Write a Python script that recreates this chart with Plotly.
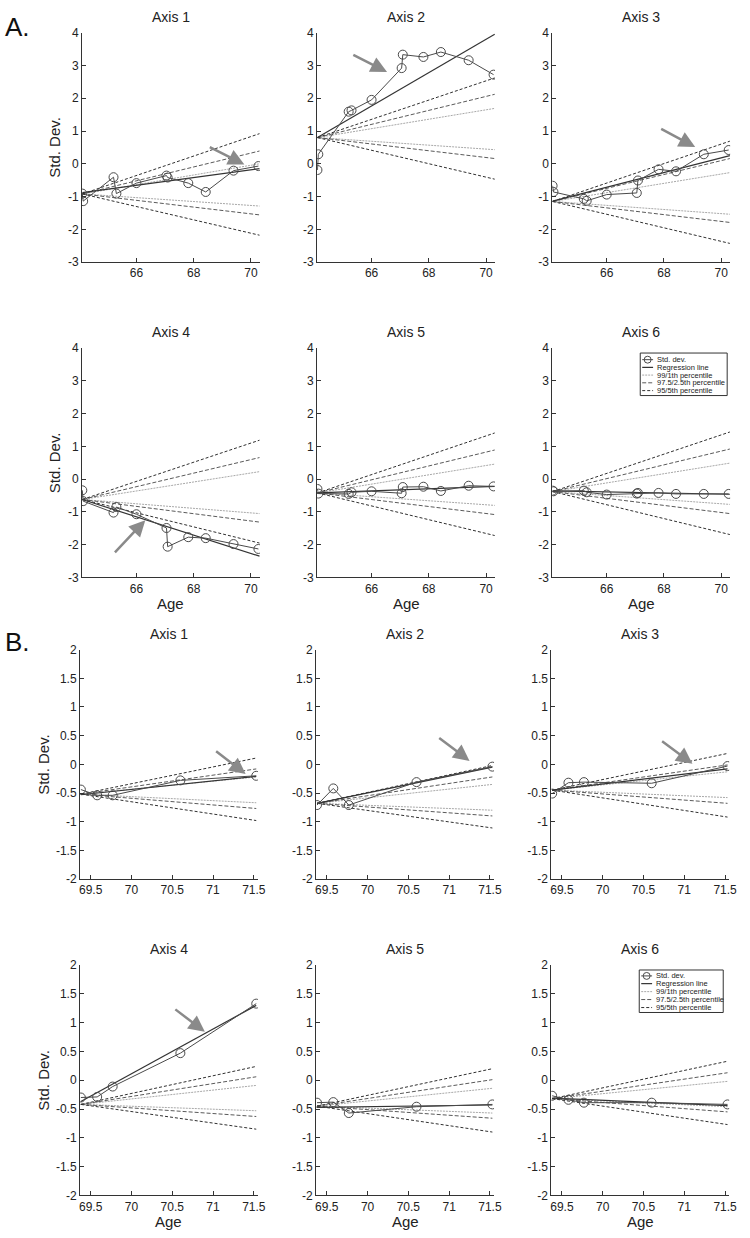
import plotly.graph_objects as go

W, H = 750, 1238

# ---------------- data ----------------
A_age = [64.11, 64.14, 65.20, 65.30, 66.00, 67.05, 67.09, 67.81, 68.42, 69.39, 70.26]
A_sd = [
    [-0.91, -1.14, -0.41, -0.91, -0.59, -0.36, -0.42, -0.59, -0.86, -0.21, -0.07],
    [-0.19, 0.29, 1.59, 1.63, 1.95, 2.92, 3.33, 3.26, 3.41, 3.16, 2.72],
    [-0.67, -0.86, -1.07, -1.13, -0.94, -0.89, -0.51, -0.17, -0.23, 0.29, 0.42],
    [-0.34, -0.67, -1.02, -0.85, -1.07, -1.49, -2.06, -1.77, -1.80, -1.98, -2.13],
    [-0.30, -0.44, -0.45, -0.40, -0.37, -0.43, -0.24, -0.23, -0.36, -0.20, -0.22],
    [-0.35, -0.37, -0.35, -0.40, -0.47, -0.44, -0.42, -0.42, -0.45, -0.45, -0.45],
]
A_line_x = [64.11, 70.30]
A_reg_start = [-0.88, 0.80, -1.14, -0.62, -0.42, -0.36]
A_reg_end = [-0.15, 3.95, 0.25, -2.35, -0.22, -0.46]
A_pct_start = [-0.92, 0.80, -1.15, -0.62, -0.42, -0.38]
A_p95_hi = [0.92, 2.62, 0.69, 1.19, 1.41, 1.44]
A_p975_hi = [0.39, 2.12, 0.16, 0.66, 0.89, 0.92]
A_p99_hi = [0.00, 1.69, -0.27, 0.23, 0.46, 0.49]
A_p99_lo = [-1.29, 0.43, -1.54, -1.05, -0.80, -0.77]
A_p975_lo = [-1.56, 0.16, -1.79, -1.31, -1.08, -1.05]
A_p95_lo = [-2.18, -0.47, -2.43, -1.95, -1.72, -1.69]
A_arrow_head = [(69.77, -0.02), (66.54, 2.80), (69.09, 0.51), (66.31, -1.25), None, None]
A_arrow_tail = [(68.51, 0.53), (65.31, 3.35), (67.85, 1.09), (65.20, -2.28), None, None]

B_age = [69.38, 69.58, 69.77, 70.60, 71.53]
B_sd = [
    [-0.44, -0.54, -0.54, -0.28, -0.20],
    [-0.71, -0.42, -0.71, -0.31, -0.04],
    [-0.51, -0.32, -0.31, -0.33, -0.03],
    [-0.30, -0.29, -0.11, 0.47, 1.33],
    [-0.39, -0.38, -0.57, -0.46, -0.42],
    [-0.27, -0.34, -0.39, -0.39, -0.42],
]
B_line_x = [69.38, 71.53]
B_reg_start = [-0.53, -0.68, -0.45, -0.37, -0.47, -0.31]
B_reg_end = [-0.21, -0.05, -0.08, 1.30, -0.43, -0.44]
B_pct_start = [-0.52, -0.68, -0.45, -0.42, -0.45, -0.32]
B_p95_hi = [0.11, -0.02, 0.19, 0.24, 0.20, 0.33]
B_p975_hi = [-0.08, -0.22, -0.01, 0.06, 0.01, 0.13]
B_p99_hi = [-0.22, -0.35, -0.13, -0.09, -0.14, -0.02]
B_p99_lo = [-0.67, -0.80, -0.58, -0.53, -0.57, -0.46]
B_p975_lo = [-0.77, -0.90, -0.68, -0.63, -0.66, -0.55]
B_p95_lo = [-0.98, -1.11, -0.92, -0.85, -0.90, -0.77]
B_arrow_head = [(71.40, -0.17), (71.25, 0.06), (71.10, 0.01), (70.90, 0.84), None, None]
B_arrow_tail = [(71.02, 0.25), (70.86, 0.48), (70.71, 0.42), (70.52, 1.25), None, None]

panel_titles = ["Axis 1", "Axis 2", "Axis 3", "Axis 4", "Axis 5", "Axis 6"]
legend_labels = ["Std. dev.", "Regression line", "99/1th percentile",
                 "97.5/2.5th percentile", "95/5th percentile"]

A_xticks = [66, 68, 70]
A_yticks = [-3, -2, -1, 0, 1, 2, 3, 4]
A_ytext = ["-3", "-2", "-1", "0", "1", "2", "3", "4"]
B_xticks = [69.5, 70, 70.5, 71, 71.5]
B_xtext = ["69.5", "70", "70.5", "71", "71.5"]
B_yticks = [-2, -1.5, -1, -0.5, 0, 0.5, 1, 1.5, 2]
B_ytext = ["-2", "-1.5", "-1", "-0.5", "0", "0.5", "1", "1.5", "2"]

# ---------------- styling ----------------
FONT = "Liberation Sans, Arial, Helvetica, sans-serif"
INK = "#222222"
SD_COLOR = "#4a4a4a"
REG_COLOR = "#333333"
STYLE = {
    "sd": dict(color=SD_COLOR, width=1),
    "reg": dict(color=REG_COLOR, width=1.2),
    "p99": dict(color="#a8a8a8", width=1, dash="2px,1px"),
    "p975": dict(color="#5a5a5a", width=1, dash="4px,2px"),
    "p95": dict(color="#303030", width=1, dash="3px,2px"),
}

col_left_A = [82, 320, 558]
col_left_B = [80, 319, 557]
PW = 180
rows_px = [(26, 258), (345, 577), (650, 882), (969, 1202)]
title_y = [10, 329, 634, 953]


def fx(px):
    return px / W


def fy(py):
    return 1 - py / H


fig = go.Figure()
annotations = []
shapes = []
layout = {}

for r in range(4):
    isA = r < 2
    for c in range(3):
        j = (r % 2) * 3 + c
        k = r * 3 + c + 1
        xa = "x" if k == 1 else f"x{k}"
        ya = "y" if k == 1 else f"y{k}"
        left = (col_left_A if isA else col_left_B)[c]
        top, bot = rows_px[r]

        if isA:
            lx, age, sd = A_line_x, A_age, A_sd[j]
            reg = (A_reg_start[j], A_reg_end[j])
            ps = A_pct_start[j]
            pct = [("p99", A_p99_hi[j]), ("p99", A_p99_lo[j]),
                   ("p975", A_p975_hi[j]), ("p975", A_p975_lo[j]),
                   ("p95", A_p95_hi[j]), ("p95", A_p95_lo[j])]
            head, tail = A_arrow_head[j], A_arrow_tail[j]
            xrange, yrange = [64.10, 70.31], [-3, 4]
        else:
            lx, age, sd = B_line_x, B_age, B_sd[j]
            reg = (B_reg_start[j], B_reg_end[j])
            ps = B_pct_start[j]
            pct = [("p99", B_p99_hi[j]), ("p99", B_p99_lo[j]),
                   ("p975", B_p975_hi[j]), ("p975", B_p975_lo[j]),
                   ("p95", B_p95_hi[j]), ("p95", B_p95_lo[j])]
            head, tail = B_arrow_head[j], B_arrow_tail[j]
            xrange, yrange = [69.37, 71.55], [-2, 2]

        for key, end in pct:
            fig.add_trace(go.Scatter(x=lx, y=[ps, end], mode="lines",
                                     line=STYLE[key], xaxis=xa, yaxis=ya,
                                     showlegend=False, hoverinfo="skip"))
        fig.add_trace(go.Scatter(x=lx, y=list(reg), mode="lines", line=STYLE["reg"],
                                 xaxis=xa, yaxis=ya, showlegend=False))
        fig.add_trace(go.Scatter(x=age, y=sd, mode="lines+markers", line=STYLE["sd"],
                                 marker=dict(symbol="circle-open", size=9,
                                             color=SD_COLOR, line=dict(width=1)),
                                 xaxis=xa, yaxis=ya, showlegend=False))

        axis_common = dict(showline=True, linecolor="#333", linewidth=1,
                           ticks="inside", ticklen=4, tickcolor="#333",
                           showgrid=False, zeroline=False,
                           tickfont=dict(family=FONT, size=12, color=INK))
        layout["xaxis" if k == 1 else f"xaxis{k}"] = dict(
            domain=[fx(left), fx(left + PW)], anchor=ya, range=xrange,
            tickvals=A_xticks if isA else B_xticks,
            ticktext=[str(v) for v in A_xticks] if isA else B_xtext,
            **axis_common)
        layout["yaxis" if k == 1 else f"yaxis{k}"] = dict(
            domain=[fy(bot), fy(top)], anchor=xa, range=yrange,
            tickvals=A_yticks if isA else B_yticks,
            ticktext=A_ytext if isA else B_ytext,
            **axis_common)

        # panel title
        annotations.append(dict(text=panel_titles[j], x=fx(left + PW / 2), y=fy(title_y[r]),
                                xref="paper", yref="paper", showarrow=False,
                                xanchor="center", yanchor="middle",
                                font=dict(family=FONT, size=14, color=INK)))
        if c == 0:
            annotations.append(dict(text="Std. Dev.", textangle=-90,
                                    x=fx(54 if isA else 43), y=fy((top + bot) / 2),
                                    xref="paper", yref="paper", showarrow=False,
                                    xanchor="center", yanchor="middle",
                                    font=dict(family=FONT, size=15, color=INK)))
        if r % 2 == 1:
            annotations.append(dict(text="Age", x=fx(left + PW / 2),
                                    y=fy(bot + 26), xref="paper", yref="paper",
                                    showarrow=False, xanchor="center", yanchor="middle",
                                    font=dict(family=FONT, size=15, color=INK)))
        if head is not None:
            annotations.append(dict(text="", x=head[0], y=head[1], ax=tail[0], ay=tail[1],
                                    xref=xa, yref=ya, axref=xa, ayref=ya,
                                    showarrow=True, arrowhead=2, arrowsize=1.3,
                                    arrowwidth=2.5, arrowcolor="#8a8a8a", standoff=0))

# panel letters
annotations.append(dict(text="A.", x=fx(2), y=fy(20), xref="paper", yref="paper",
                        showarrow=False, xanchor="left", yanchor="middle",
                        font=dict(family=FONT, size=26, color="#111")))
annotations.append(dict(text="B.", x=fx(2), y=fy(642), xref="paper", yref="paper",
                        showarrow=False, xanchor="left", yanchor="middle",
                        font=dict(family=FONT, size=26, color="#111")))

# manual legends (panel 6 of A and of B)
legend_boxes = [(647, 350, 735, 393, [356.7, 364.5, 372.3, 380.1, 388.0]),
                (646, 974, 731, 1017, [980.0, 987.8, 995.9, 1003.9, 1012.0])]
legend_keys = ["sd", "reg", "p99", "p975", "p95"]
for (x0, y0, x1, y1, rows) in legend_boxes:
    shapes.append(dict(type="rect", xref="paper", yref="paper",
                       x0=fx(x0), x1=fx(x1), y0=fy(y1), y1=fy(y0),
                       line=dict(color="#333", width=1), fillcolor="white"))
    for key, label, ry in zip(legend_keys, legend_labels, rows):
        st = STYLE[key]
        shapes.append(dict(type="line", xref="paper", yref="paper",
                           x0=fx(x0 + 2), x1=fx(x0 + 13), y0=fy(ry), y1=fy(ry),
                           line=dict(color=st["color"], width=st["width"],
                                     dash=st.get("dash", "solid"))))
        if key == "sd":
            shapes.append(dict(type="circle", xref="paper", yref="paper",
                               x0=fx(x0 + 4), x1=fx(x0 + 11),
                               y0=fy(ry + 3.5), y1=fy(ry - 3.5),
                               line=dict(color=SD_COLOR, width=1)))
        annotations.append(dict(text=label, x=fx(x0 + 15), y=fy(ry), xref="paper",
                                yref="paper", showarrow=False, xanchor="left",
                                yanchor="middle",
                                font=dict(family=FONT, size=7.5, color=INK)))

fig.update_layout(width=W, height=H, autosize=False,
                  margin=dict(l=0, r=0, t=0, b=0),
                  paper_bgcolor="white", plot_bgcolor="white",
                  showlegend=False, annotations=annotations, shapes=shapes,
                  font=dict(family=FONT, color=INK), **layout)

fig.write_html("out.html", config={"displayModeBar": False},
               post_script="document.body.style.margin='0';"
                           "document.body.style.overflow='hidden';")
